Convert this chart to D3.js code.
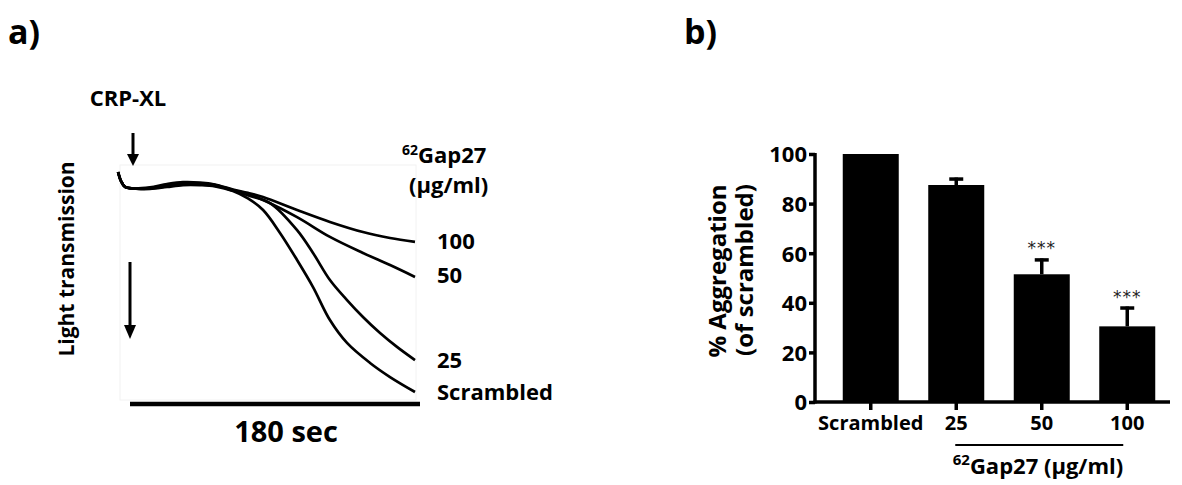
<!DOCTYPE html>
<html><head><meta charset="utf-8">
<script src="https://cdn.jsdelivr.net/npm/d3@7"></script>
<style>
body{margin:0;background:#fff;}
svg{display:block;font-family:"Open Sans",sans-serif;}
</style></head>
<body>
<svg id="c" width="1182" height="485"></svg>
<script>
// ---------- Panel a: aggregation traces (time in s, drop in transmission, arbitrary units 0-100) ----------
const traceNames = ["100", "50", "25", "Scrambled"];
const trace100 = [[-7.4,-5],[-5.6,-0.9],[-3.1,1.8],[1.9,2.5],[12.4,2.0],[23,0.5],[32.9,-0.4],[43.4,-0.2],[52.8,0.7],[63.9,3.0],[73.2,4.5],[82.6,6.4],[103.7,12.3],[124.1,17.7],[144.6,22.3],[161.4,25],[176.9,26.8]];
const trace50  = [[-7.4,-5],[-5.6,-0.9],[-3.1,1.8],[1.9,2.5],[12.4,2.3],[23,0.9],[32.9,0.1],[43.4,0.2],[52.8,0.9],[63.9,3.2],[73.2,5],[82.6,7.7],[103.7,15.5],[124.1,24.5],[144.6,31.8],[161.4,37.3],[176.9,42.7]];
const trace25  = [[-7.4,-5],[-5.6,-0.9],[-3.1,1.8],[1.9,2.5],[12.4,2.5],[23,1.4],[32.9,0.6],[43.4,0.7],[52.8,1.2],[63.9,3.4],[74.5,5.9],[86.9,9.1],[103.7,21.4],[113.6,31.8],[124.1,44.1],[134.7,53.2],[144.6,60.9],[155.2,68.2],[165.7,74.5],[176.9,80.5]];
const traceScr = [[-7.4,-5],[-5.6,-0.9],[-3.1,1.8],[1.9,2.5],[12.4,2.7],[23,1.8],[32.9,1.0],[43.4,1.0],[52.8,1.5],[63.9,3.6],[73.2,7],[82.6,12.3],[93.1,22.7],[103.7,35],[113.6,47.3],[124.1,62.3],[134.7,72.7],[149,81.8],[161.4,88.2],[176.9,95]];
const traceLabelRows = [242, 276, 361, 393];

// ---------- Panel b: bar chart ----------
const categories = ["Scrambled", "25", "50", "100"];
const aggValues  = [100, 87.5, 51.5, 30.5];
const aggErrors  = [0, 3, 6.4, 8];
const aggStars   = ["", "", "***", "***"];
const yTicks     = [0, 20, 40, 60, 80, 100];

const svg = d3.select("#c");

// ===== Panel a =====
const xT = d3.scaleLinear().domain([0, 180]).range([130, 420]);
const yT = d3.scaleLinear().domain([0, 100]).range([183, 403]);

svg.append("text").attr("x", 8).attr("y", 44).attr("font-size", 34).attr("font-weight", 700).text("a)");
svg.append("text").attr("x", 128).attr("y", 106).attr("text-anchor", "middle").attr("font-size", 22).attr("font-weight", 700).text("CRP-XL");

// faint trace box
svg.append("rect").attr("x", 120).attr("y", 165).attr("width", 296).attr("height", 235)
  .attr("fill", "none").attr("stroke", "#f2f2f2").attr("stroke-width", 1);

// arrows
function arrow(x, y1, y2, w, hw, hl) {
  svg.append("line").attr("x1", x).attr("x2", x).attr("y1", y1).attr("y2", y2 - hl + 1)
    .attr("stroke", "#000").attr("stroke-width", w);
  svg.append("path").attr("d", `M${x-hw},${y2-hl}L${x+hw},${y2-hl}L${x},${y2}Z`).attr("fill", "#000");
}
arrow(133, 133, 166, 3, 6, 12);
arrow(130, 262, 339, 3, 6, 14);

svg.append("text").attr("transform", "translate(74,259) rotate(-90)").attr("text-anchor", "middle")
  .attr("font-size", 21).attr("font-weight", 700).text("Light transmission");

const line = d3.line().x(d => xT(d[0])).y(d => yT(d[1])).curve(d3.curveCatmullRom.alpha(0.5));
[trace100, trace50, trace25, traceScr].forEach(tr => {
  svg.append("path").attr("d", line(tr)).attr("fill", "none").attr("stroke", "#000").attr("stroke-width", 2.7);
});

// scale bar
svg.append("line").attr("x1", xT(0)).attr("x2", xT(180)).attr("y1", 404).attr("y2", 404)
  .attr("stroke", "#000").attr("stroke-width", 4.5);
svg.append("text").attr("x", 286).attr("y", 442).attr("text-anchor", "middle")
  .attr("font-size", 29).attr("font-weight", 700).text("180 sec");

// legend-like labels
const g62 = svg.append("text").attr("x", 402).attr("y", 163).attr("font-size", 22).attr("font-weight", 700);
g62.append("tspan").attr("font-size", 14).attr("dy", -8).text("62");
g62.append("tspan").attr("dy", 8).text("Gap27");
svg.append("text").attr("x", 409).attr("y", 193).attr("font-size", 22).attr("font-weight", 700).text("(μg/ml)");
traceNames.forEach((n, i) => {
  svg.append("text").attr("x", 437).attr("y", traceLabelRows[i] + 7).attr("font-size", 22).attr("font-weight", 700).text(n);
});

// ===== Panel b =====
svg.append("text").attr("x", 684).attr("y", 44).attr("font-size", 34).attr("font-weight", 700).text("b)");

const x = d3.scaleBand().domain(categories).range([828, 1170]).paddingInner(0.345).paddingOuter(0.1725);
const y = d3.scaleLinear().domain([0, 100]).range([402, 154]);

const gb = svg.append("g");
gb.selectAll("rect.bar").data(categories).join("rect").attr("class", "bar")
  .attr("x", d => x(d)).attr("width", x.bandwidth())
  .attr("y", (d, i) => y(aggValues[i])).attr("height", (d, i) => y(0) - y(aggValues[i]))
  .attr("fill", "#000");

// error bars
categories.forEach((c, i) => {
  if (!aggErrors[i]) return;
  const cx = x(c) + x.bandwidth() / 2;
  gb.append("line").attr("x1", cx).attr("x2", cx).attr("y1", y(aggValues[i])).attr("y2", y(aggValues[i] + aggErrors[i]))
    .attr("stroke", "#000").attr("stroke-width", 3.5);
  gb.append("line").attr("x1", cx - 7).attr("x2", cx + 7).attr("y1", y(aggValues[i] + aggErrors[i]) + 1.5).attr("y2", y(aggValues[i] + aggErrors[i]) + 1.5)
    .attr("stroke", "#000").attr("stroke-width", 3.5);
  if (aggStars[i]) {
    gb.append("text").attr("x", cx).attr("y", y(aggValues[i] + aggErrors[i]) - 4).attr("text-anchor", "middle")
      .attr("font-size", 17).attr("font-family", "DejaVu Sans").attr("fill", "#222").attr("letter-spacing", 1).text(aggStars[i]);
  }
});

// y axis
const yAx = svg.append("g").attr("transform", "translate(815,0)")
  .call(d3.axisLeft(y).tickValues(yTicks).tickSize(6).tickPadding(2).tickSizeOuter(0));
yAx.select(".domain").attr("stroke-width", 3.5).attr("d", `M0,${y(100) - 1}V${y(0) + 1.5}`);
yAx.selectAll(".tick line").attr("stroke-width", 3.5);
yAx.selectAll(".tick text").attr("font-size", 22).attr("font-weight", 700).attr("font-family", "Open Sans").attr("fill", "#000").attr("dy", "0.36em");

// x axis
const xAx = svg.append("g").attr("transform", "translate(0,402)")
  .call(d3.axisBottom(x).tickSize(8).tickPadding(6).tickSizeOuter(0));
xAx.select(".domain").attr("stroke-width", 3.5).attr("d", "M813.5,0H1170");
xAx.selectAll(".tick line").attr("stroke-width", 3.5);
xAx.selectAll(".tick text").attr("font-size", 20).attr("font-weight", 700).attr("font-family", "Open Sans").attr("fill", "#000");

// group line and label
svg.append("line").attr("x1", x("25") + x.bandwidth() / 2 - 1).attr("x2", x("100") + x.bandwidth() / 2 - 4)
  .attr("y1", 445).attr("y2", 445).attr("stroke", "#000").attr("stroke-width", 2);
const gl = svg.append("text").attr("x", 1038).attr("y", 474).attr("text-anchor", "middle").attr("font-size", 22).attr("font-weight", 700);
gl.append("tspan").attr("font-size", 15).attr("dy", -9).text("62");
gl.append("tspan").attr("dy", 9).text("Gap27 (μg/ml)");

// y title
svg.append("text").attr("transform", "translate(726,271) rotate(-90)").attr("text-anchor", "middle")
  .attr("font-size", 24).attr("font-weight", 700).text("% Aggregation");
svg.append("text").attr("transform", "translate(753,270) rotate(-90)").attr("text-anchor", "middle")
  .attr("font-size", 24).attr("font-weight", 700).text("(of scrambled)");
</script>
</body></html>
